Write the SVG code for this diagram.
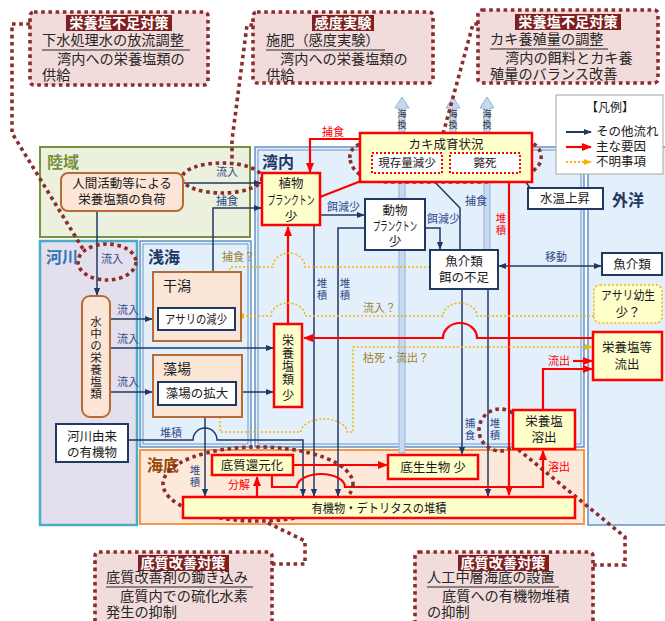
<svg xmlns="http://www.w3.org/2000/svg" width="665" height="621" viewBox="0 0 665 621">
<style>
text{font-family:"Noto Sans CJK JP","Noto Sans CJK SC",sans-serif;fill:#1a1a1a}
.rl{font-size:16px;font-weight:bold}
.n{font-size:12.5px;text-anchor:middle}
.nv{font-size:11.5px;text-anchor:middle}
.s{font-size:11px;fill:#2f4b8a}
.sv{font-size:10.5px;fill:#2f4b8a;text-anchor:middle}
.sr{font-size:11px;fill:#ff0000}
.srv{font-size:10.5px;fill:#ff0000;text-anchor:middle}
.so{font-size:11px;fill:#a08030}
.ct{font-size:14.2px;fill:#262626}
.cth{font-size:14.2px;fill:#ffffff;font-weight:bold;text-anchor:middle}
.nav{fill:none;stroke:#1f3864;stroke-width:1.5}
.red{fill:none;stroke:#ff0000;stroke-width:2.2}
.dot{fill:none;stroke:#f2b600;stroke-width:1.5;stroke-dasharray:2 2}
.lead{fill:none;stroke:#8c2c2c;stroke-width:3.6;stroke-dasharray:3.6 3.6}
.call{fill:#f2dcdb;stroke:#8c2c2c;stroke-width:3.6;stroke-dasharray:3.6 3.6}
.bn{fill:#ffffff;stroke:#1f3864;stroke-width:2}
.br{fill:#ffffcc;stroke:#ff0000;stroke-width:2.5}
.bp{fill:#fbe5d6;stroke:#b86b32;stroke-width:2}
.hl{fill:#7f1f1f}
.ul{stroke:#262626;stroke-width:1}
.sea{fill:#e3f0fb;stroke:#4f81bd;stroke-width:1.3}
.seai{fill:none;stroke:#4f81bd;stroke-width:0.8}
.xarr{fill:#c5d9f1;stroke:#95b3d7;stroke-width:1}
.xt{font-size:9px;fill:#333;text-anchor:middle}
</style>
<defs>
<marker id="an" markerUnits="userSpaceOnUse" markerWidth="8" markerHeight="8" viewBox="0 0 10 10" refX="9" refY="5" orient="auto-start-reverse"><path d="M0,1 L10,5 L0,9 z" fill="#1f3864"/></marker>
<marker id="ar" markerUnits="userSpaceOnUse" markerWidth="10" markerHeight="10" viewBox="0 0 10 10" refX="9" refY="5" orient="auto"><path d="M0,1 L10,5 L0,9 z" fill="#ff0000"/></marker>
<marker id="ao" markerUnits="userSpaceOnUse" markerWidth="8" markerHeight="8" viewBox="0 0 10 10" refX="9" refY="5" orient="auto"><path d="M0,1 L10,5 L0,9 z" fill="#f2b600"/></marker>
</defs>

<g id="regions">
<rect x="40" y="147" width="210" height="90" fill="#ebf1de" stroke="#77933c" stroke-width="2"/>
<rect x="40" y="241" width="97" height="284" fill="#e4dfec" stroke="#4bacc6" stroke-width="2.5"/>
<rect class="sea" x="588" y="147" width="80" height="378"/>
<rect class="sea" x="140" y="241" width="111" height="206"/>
<rect class="seai" x="143" y="244" width="105" height="200"/>
<rect class="sea" x="255" y="147" width="329" height="300"/>
<rect class="seai" x="258" y="150" width="323" height="294"/>
<rect x="140" y="450" width="444" height="74" fill="#fde9d9" stroke="#f79646" stroke-width="2"/>
<text class="rl" x="47" y="168" style="fill:#77933c">陸域</text>
<text class="rl" x="46" y="263" style="fill:#2e75b6">河川</text>
<text class="rl" x="148" y="263" style="fill:#1f3864">浅海</text>
<text class="rl" x="262" y="168" style="fill:#1f3864">湾内</text>
<text class="rl" x="612" y="206" style="fill:#1f3864">外洋</text>
<text class="rl" x="147" y="471" style="fill:#984807">海底</text>
</g>

<g id="exchange">
<polygon class="xarr" points="402,97 409,108 405,108 405,453 399,453 399,108 395,108"/>
<polygon class="xarr" points="453,97 460,108 456,108 456,135 450,135 450,108 446,108"/>
<polygon class="xarr" points="487,97 494,108 490,108 490,250 484,250 484,108 480,108"/>
<text class="xt"><tspan x="402" y="117">海</tspan><tspan x="402" y="128">換</tspan></text>
<text class="xt"><tspan x="453" y="117">海</tspan><tspan x="453" y="128">換</tspan></text>
<text class="xt"><tspan x="487" y="117">海</tspan><tspan x="487" y="128">換</tspan></text>
</g>

<g id="connectors">
<path class="nav" d="M183 183 H261" marker-end="url(#an)"/>
<path class="nav" d="M97 211 V295" marker-end="url(#an)"/>
<path class="nav" d="M213 308 V208 H261" marker-end="url(#an)"/>
<path class="nav" d="M110 319 H152" marker-end="url(#an)"/>
<path class="nav" d="M110 348 H273" marker-end="url(#an)"/>
<path class="nav" d="M110 392 H152" marker-end="url(#an)"/>
<path class="nav" d="M236 392 H273" marker-end="url(#an)"/>
<path class="nav" d="M320 215 H364" marker-end="url(#an)"/>
<path class="nav" d="M425 228 H440 V249" marker-end="url(#an)"/>
<path class="nav" d="M314 225 V496" marker-end="url(#an)"/>
<path class="nav" d="M365 228 H338 V496" marker-end="url(#an)"/>
<path class="nav" d="M205 405 V496" marker-end="url(#an)"/>
<path class="nav" d="M128 440 H193 A12 12 0 0 1 217 440 H303 V496" marker-end="url(#an)"/>
<path class="nav" d="M460 250 V208 L428 175" marker-end="url(#an)"/>
<path class="nav" d="M462 290 V454" marker-end="url(#an)"/>
<path class="nav" d="M488 290 V496" marker-end="url(#an)"/>
<path class="nav" d="M499 266 H601" marker-start="url(#an)" marker-end="url(#an)"/>
<path class="nav" d="M530 188 L521 175" marker-end="url(#an)"/>
<path class="red" d="M360 139 H310 V172" marker-end="url(#ar)"/>
<path class="red" d="M320 197 L361 181"/>
<path class="red" d="M288 324 V227" marker-end="url(#ar)"/>
<path class="red" d="M593 338 H477 A17 15 0 0 0 443 338 H304" marker-end="url(#ar)"/>
<path class="red" d="M509 182 V495" marker-end="url(#ar)"/>
<path class="red" d="M543 410 V369 H592" marker-end="url(#ar)"/>
<path class="red" d="M573 361 H592" marker-end="url(#ar)"/>
<path class="red" d="M293 465 H387" marker-end="url(#ar)"/>
<path class="red" d="M257 497 V477" marker-end="url(#ar)"/>
<path class="red" d="M272 475 V487 H297 A24 13 0 0 1 345 487 H543 V451" marker-end="url(#ar)"/>
<path class="dot" d="M430 267 H305 A16 14 0 0 0 273 267 H230 V306" marker-end="url(#ao)"/>
<path class="dot" d="M594 316 H477 A17 13 0 0 0 443 316 H305 A17 13 0 0 0 271 316 H237" marker-end="url(#ao)"/>
<path class="dot" d="M220 405 V432 H301 A23 13 0 0 1 347 432 H353 V347 H592" marker-end="url(#ao)"/>
<text class="s" x="216" y="176">流入</text>
<text class="s" x="216" y="205">捕食</text>
<text class="s" x="101" y="263">流入</text>
<text class="s" x="117" y="314">流入</text>
<text class="s" x="117" y="343">流入</text>
<text class="s" x="117" y="386">流入</text>
<text class="s" x="160" y="437">堆積</text>
<text class="s" x="327" y="211">餌減少</text>
<text class="s" x="427" y="223">餌減少</text>
<text class="s" x="465" y="205">捕食</text>
<text class="s" x="545" y="261">移動</text>
<text class="sv"><tspan x="322" y="287">堆</tspan><tspan x="322" y="299">積</tspan></text>
<text class="sv"><tspan x="345" y="287">堆</tspan><tspan x="345" y="299">積</tspan></text>
<text class="sv"><tspan x="195" y="474">堆</tspan><tspan x="195" y="486">積</tspan></text>
<text class="sv"><tspan x="470" y="427">捕</tspan><tspan x="470" y="439">食</tspan></text>
<text class="sv"><tspan x="495" y="427">堆</tspan><tspan x="495" y="439">積</tspan></text>
<text class="srv"><tspan x="501" y="222">堆</tspan><tspan x="501" y="234">積</tspan></text>
<text class="sr" x="322" y="136">捕食</text>
<text class="sr" x="548" y="365">流出</text>
<text class="sr" x="548" y="471">溶出</text>
<text class="sr" x="228" y="489">分解</text>
<text class="so" x="222" y="261">捕食？</text>
<text class="so" x="363" y="312">流入？</text>
<text class="so" x="363" y="362">枯死・流出？</text>
</g>

<g id="leaders">
<path class="lead" d="M30 24 H12 V133 L83 249"/>
<ellipse class="lead" cx="107" cy="262" rx="29" ry="18"/>
<path class="lead" d="M253 25 H247 L232 140 V163"/>
<ellipse class="lead" cx="222" cy="178" rx="40" ry="15"/>
<path class="lead" d="M478 24 H473 L443 134"/>
<path class="lead" d="M350 158 C348 140 380 136 440 135 C500 134 538 134 541 155 C543 172 520 181 480 182 L390 182 C365 182 351 172 350 158 Z"/>
<path class="lead" d="M272 564 H305 V541 L266 522"/>
<ellipse class="lead" cx="258" cy="484" rx="95" ry="37"/>
<path class="lead" d="M593 565 H625 V537 L514 446"/>
<circle class="lead" cx="500" cy="430" r="21"/>
</g>

<g id="node-human"><rect class="bp" x="61" y="173" width="122" height="38" rx="7"/><text class="n" x="122" y="188">人間活動等による</text><text class="n" x="122" y="204">栄養塩類の負荷</text></g>
<g id="node-water-nutrient"><rect class="bp" x="82" y="296" width="28" height="121" rx="8"/><text class="nv"><tspan x="96" y="326">水</tspan><tspan x="96" y="338">中</tspan><tspan x="96" y="350">の</tspan><tspan x="96" y="362">栄</tspan><tspan x="96" y="374">養</tspan><tspan x="96" y="386">塩</tspan><tspan x="96" y="398">類</tspan></text></g>
<g id="node-tidalflat"><rect class="bp" x="153" y="272" width="88" height="69"/><text x="163" y="291" style="font-size:14px">干潟</text>
<rect class="bn" x="158" y="308" width="77" height="22"/><text class="n" x="196" y="324" textLength="62" lengthAdjust="spacingAndGlyphs">アサリの減少</text></g>
<g id="node-seaweed"><rect class="bp" x="153" y="355" width="89" height="62"/><text x="163" y="374" style="font-size:14px">藻場</text>
<rect class="bn" x="158" y="382" width="78" height="23"/><text class="n" x="197" y="398">藻場の拡大</text></g>
<g id="node-river-organic"><rect class="bn" x="56" y="424" width="72" height="38"/><text class="n" x="92" y="441">河川由来</text><text class="n" x="92" y="457">の有機物</text></g>
<g id="node-phyto"><rect class="br" x="262" y="173" width="58" height="52"/><text class="n" x="291" y="188">植物</text><text class="n" x="291" y="205" textLength="47" lengthAdjust="spacingAndGlyphs">プランクトン</text><text class="n" x="291" y="221">少</text></g>
<g id="node-zoo"><rect class="bn" x="365" y="199" width="60" height="51"/><text class="n" x="395" y="215">動物</text><text class="n" x="395" y="231" textLength="44" lengthAdjust="spacingAndGlyphs">プランクトン</text><text class="n" x="395" y="246">少</text></g>
<g id="node-oyster"><rect class="br" x="360" y="133" width="172" height="49"/><text class="n" x="446" y="149">カキ成育状況</text>
<rect x="372" y="153" width="70" height="20" fill="#ffffff" stroke="#ff0000" stroke-width="2" stroke-dasharray="2 2"/><text class="n" x="407" y="167" style="font-size:11.5px">現存量減少</text>
<rect x="450" y="153" width="70" height="20" fill="#ffffff" stroke="#ff0000" stroke-width="2" stroke-dasharray="2 2"/><text class="n" x="485" y="167" style="font-size:11.5px">斃死</text></g>
<g id="node-nutrient-low"><rect class="br" x="274" y="324" width="28" height="83"/><text class="nv" style="font-size:12px"><tspan x="288" y="345">栄</tspan><tspan x="288" y="358">養</tspan><tspan x="288" y="371">塩</tspan><tspan x="288" y="384">類</tspan><tspan x="288" y="400">少</tspan></text></g>
<g id="node-fish-feed"><rect class="bn" x="430" y="250" width="68" height="39"/><text class="n" x="464" y="266">魚介類</text><text class="n" x="464" y="282">餌の不足</text></g>
<g id="node-watertemp"><rect class="bn" x="528" y="188" width="75" height="21"/><text class="n" x="565" y="203">水温上昇</text></g>
<g id="node-fish-out"><rect class="bn" x="602" y="253" width="60" height="22"/><text class="n" x="632" y="269">魚介類</text></g>
<g id="node-larvae"><rect x="594" y="285" width="68" height="38" rx="6" fill="#ffffcc" stroke="#f2b600" stroke-width="1.5" stroke-dasharray="2 2"/><text class="n" x="628" y="300" textLength="54" lengthAdjust="spacingAndGlyphs">アサリ幼生</text><text class="n" x="628" y="317">少？</text></g>
<g id="node-outflow"><rect class="br" x="593" y="332" width="69" height="48"/><text class="n" x="627" y="352">栄養塩等</text><text class="n" x="627" y="369">流出</text></g>
<g id="node-elution"><rect class="br" x="513" y="410" width="62" height="39"/><text class="n" x="544" y="426">栄養塩</text><text class="n" x="544" y="442">溶出</text></g>
<g id="node-reduction"><rect class="br" x="212" y="455" width="81" height="20"/><text class="n" x="252" y="470">底質還元化</text></g>
<g id="node-benthos"><rect class="br" x="388" y="455" width="90" height="24"/><text class="n" x="433" y="472">底生生物 少</text></g>
<g id="node-detritus"><rect class="br" x="183" y="497" width="392" height="21"/><text class="n" x="379" y="513" textLength="135" lengthAdjust="spacingAndGlyphs">有機物・デトリタスの堆積</text></g>

<g id="legend"><rect x="556" y="95" width="107" height="79" fill="#ffffff" stroke="#a6a6a6" stroke-width="1"/>
<text class="n" x="610" y="112" style="font-size:12px">【凡例】</text>
<path d="M566 132 H591" stroke="#1f3864" stroke-width="2" fill="none" marker-end="url(#an)"/>
<path d="M566 147 H591" stroke="#ff0000" stroke-width="2.2" fill="none" marker-end="url(#ar)"/>
<path d="M566 162 H591" stroke="#f2b600" stroke-width="2" stroke-dasharray="2 2" fill="none" marker-end="url(#ao)"/>
<text x="596" y="136" style="font-size:12.5px">その他流れ</text>
<text x="596" y="151" style="font-size:12.5px">主な要因</text>
<text x="596" y="166" style="font-size:12.5px">不明事項</text></g>

<g id="callout-1"><rect class="call" x="30" y="12" width="178" height="73" rx="4"/><rect class="hl" x="66" y="15" width="106" height="16"/><text class="cth" x="119" y="28">栄養塩不足対策</text>
<text class="ct" x="42" y="45">下水処理水の放流調整</text><line class="ul" x1="42" y1="50" x2="190" y2="50"/>
<text class="ct" x="57" y="64">湾内への栄養塩類の</text><text class="ct" x="42" y="80">供給</text></g>
<g id="callout-2"><rect class="call" x="253" y="12" width="180" height="71" rx="4"/><rect class="hl" x="312" y="15" width="62" height="16"/><text class="cth" x="343" y="28">感度実験</text>
<text class="ct" x="266" y="45">施肥（感度実験）</text><line class="ul" x1="266" y1="50" x2="385" y2="50"/>
<text class="ct" x="280" y="64">湾内への栄養塩類の</text><text class="ct" x="266" y="80">供給</text></g>
<g id="callout-3"><rect class="call" x="478" y="10" width="180" height="73" rx="4"/><rect class="hl" x="515" y="14" width="106" height="16"/><text class="cth" x="568" y="27">栄養塩不足対策</text>
<text class="ct" x="490" y="44">カキ養殖量の調整</text><line class="ul" x1="490" y1="49" x2="608" y2="49"/>
<text class="ct" x="505" y="63">湾内の餌料とカキ養</text><text class="ct" x="490" y="79">殖量のバランス改善</text></g>
<g id="callout-4"><rect class="call" x="95" y="552" width="177" height="75" rx="4"/><rect class="hl" x="138" y="555" width="91" height="16"/><text class="cth" x="183" y="568">底質改善対策</text>
<text class="ct" x="106" y="582">底質改善剤の鋤き込み</text><line class="ul" x1="106" y1="587" x2="253" y2="587"/>
<text class="ct" x="120" y="601">底質内での硫化水素</text><text class="ct" x="106" y="617">発生の抑制</text></g>
<g id="callout-5"><rect class="call" x="415" y="552" width="178" height="75" rx="4"/><rect class="hl" x="458" y="555" width="91" height="16"/><text class="cth" x="503" y="568">底質改善対策</text>
<text class="ct" x="427" y="582">人工中層海底の設置</text><line class="ul" x1="427" y1="587" x2="559" y2="587"/>
<text class="ct" x="442" y="601">底質への有機物堆積</text><text class="ct" x="427" y="617">の抑制</text></g>
</svg>
